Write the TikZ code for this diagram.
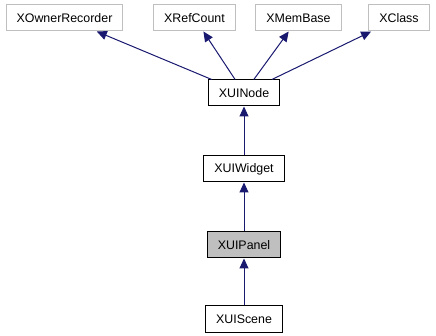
\documentclass[tikz,border=0pt]{standalone}
\usepackage{fontspec}
\setmainfont{Liberation Sans}
\usetikzlibrary{arrows.meta,positioning}
\definecolor{edgeblue}{HTML}{191970}
\definecolor{boxgray}{HTML}{BFBFBF}

\begin{document}
\begin{tikzpicture}[
  x=1pt,y=-1pt,
  node distance=49pt,
  cls/.style={draw=black,fill=white,line width=1pt,minimum height=26pt,inner xsep=10.5pt,inner ysep=0pt,font=\fontsize{12.4}{14}\selectfont},
  ext/.style={cls,draw=boxgray},
  cur/.style={cls,fill=boxgray},
  arr/.style={-{Triangle[length=10pt,width=9pt]},line width=1pt,draw=edgeblue}
]
  \useasboundingbox (0,0) rectangle (436,336);
  \node[ext] (owner) at (64.5,18) {XOwnerRecorder};
  \node[ext] (refcount) at (194.5,18) {XRefCount};
  \node[ext] (membase) at (298.5,18) {XMemBase};
  \node[ext] (xclass) at (399,18) {XClass};
  \node[cls] (uinode) at (244,93) {XUINode};
  \node[cls,below=of uinode] (widget) {XUIWidget};
  \node[cur,below=of widget] (panel) {XUIPanel};
  \node[cls,below=47pt of panel] (scene) {XUIScene};
  \draw[arr] (uinode) -- (owner);
  \draw[arr] (uinode) -- (refcount);
  \draw[arr] (uinode) -- (membase);
  \draw[arr] (uinode) -- (xclass);
  \draw[arr] (widget) -- (uinode);
  \draw[arr] (panel) -- (widget);
  \draw[arr] (scene) -- (panel);
\end{tikzpicture}
\end{document}
